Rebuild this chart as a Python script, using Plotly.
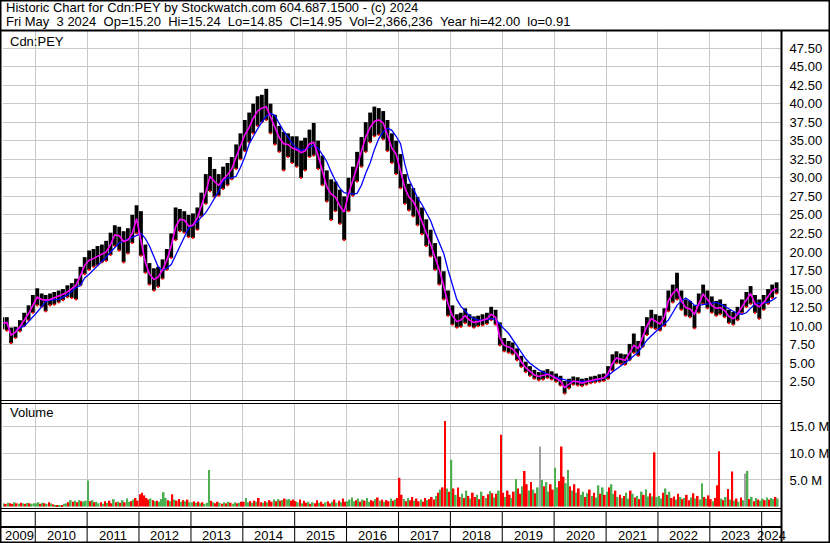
import pandas as pd
import plotly.graph_objects as go

W, H = 830, 543
FONT = "Liberation Sans, Arial, sans-serif"

# monthly bars, May 2009 .. Apr 2024 (May 2024 folded into April)
months = pd.date_range("2009-05-01", "2024-04-01", freq="MS")
bar_dates = months + pd.Timedelta(days=14)

price_hi = [
    11.2, 11.2, 9.8, 9.9, 10.8, 11.8, 12.8, 14.2,  # 2009
    15.1, 14.4, 14.2, 14.4, 14.6, 14.8, 15.0, 15.5, 15.8, 16.4, 18.0, 19.3,
    20.2, 20.4, 20.8, 21.0, 21.5, 22.6, 23.6, 23.4, 22.8, 23.2, 25.0, 26.3,
    25.5, 21.0, 18.5, 17.8, 18.0, 19.0, 20.4, 22.5, 26.0, 25.8, 25.5, 25.0,
    25.2, 26.0, 28.0, 30.5, 32.8, 31.2, 30.5, 31.5, 32.0, 32.8, 34.5, 36.0,
    37.8, 38.8, 40.0, 41.0, 41.2, 42.0, 40.0, 38.5, 37.0, 36.2, 36.0, 35.6,
    35.6, 35.0, 35.4, 36.5, 37.4, 35.0, 33.0, 31.0, 29.8, 29.5, 28.4, 27.5,
    30.0, 31.5, 33.5, 35.5, 37.5, 38.8, 39.6, 39.4, 39.0, 37.8, 36.0, 35.0,
    33.2, 30.5, 29.2, 28.6, 27.4, 26.0, 24.4, 23.0, 21.2, 19.4, 17.4, 14.8,
    12.8, 11.6, 11.8, 12.4, 11.6, 11.3, 11.4, 11.6, 11.8, 12.6, 12.2, 10.5,
    8.4, 8.0, 7.8, 7.0, 6.0, 5.2, 4.6, 4.1, 3.8, 4.0, 4.2, 3.9,
    3.6, 3.3, 2.6, 2.9, 3.2, 3.1, 2.9, 3.0, 3.2, 3.3, 3.5, 3.6,
    4.6, 6.2, 6.6, 6.3, 6.2, 7.6, 9.0, 8.0, 10.0, 11.2, 12.2, 11.6,
    11.4, 12.4, 14.8, 15.6, 17.2, 14.8, 13.6, 13.4, 12.8, 14.4, 15.6, 14.8,
    14.0, 13.4, 13.6, 13.0, 12.2, 11.9, 12.6, 13.6, 14.6, 15.4, 14.2, 13.6,
    14.2, 15.0, 15.6, 15.9,  # 2024
]
price_lo = [
    9.6, 9.4, 7.7, 8.4, 9.3, 10.0, 10.8, 11.8,
    12.8, 12.6, 12.0, 12.8, 12.9, 13.2, 13.5, 13.9, 13.8, 13.6, 15.5, 17.0,
    17.6, 18.0, 18.2, 18.6, 18.8, 19.6, 20.8, 20.2, 18.6, 19.8, 21.2, 22.5,
    19.5, 17.2, 15.6, 14.8, 15.3, 16.4, 17.6, 19.2, 21.6, 22.8, 22.6, 22.0,
    21.9, 23.0, 24.8, 26.5, 28.2, 27.4, 27.6, 28.5, 29.0, 29.8, 31.2, 32.5,
    33.6, 34.8, 36.0, 37.0, 37.5, 37.8, 36.0, 34.5, 33.5, 31.0, 32.8, 32.0,
    31.5, 30.0, 31.0, 32.8, 33.0, 31.2, 29.0, 26.8, 24.3, 25.5, 23.8, 21.6,
    25.5, 27.6, 29.5, 31.5, 33.5, 34.8, 35.6, 35.8, 35.2, 33.6, 32.0, 30.5,
    28.6, 26.5, 25.6, 24.8, 23.6, 22.4, 20.8, 19.4, 17.6, 15.6, 13.6, 11.4,
    10.2, 9.8, 9.9, 10.4, 10.0, 9.8, 10.0, 10.1, 10.3, 10.8, 10.2, 7.4,
    6.6, 6.4, 6.2, 5.4, 4.5, 3.8, 3.3, 2.9, 2.7, 2.8, 3.0, 2.8,
    2.5, 2.0, 0.91, 1.6, 2.1, 2.0, 1.9, 2.1, 2.3, 2.4, 2.5, 2.6,
    2.9, 4.0, 5.0, 4.9, 4.8, 5.4, 6.4, 6.0, 7.2, 8.8, 9.8, 9.6,
    9.4, 10.0, 12.0, 13.2, 13.6, 12.2, 11.4, 11.2, 9.7, 11.8, 13.0, 12.4,
    11.8, 11.4, 11.6, 11.2, 10.4, 10.2, 10.8, 11.8, 12.6, 13.0, 11.8, 11.0,
    12.2, 13.0, 13.8, 14.4,
]
# short moving average (magenta)
ma_fast = [
    10.4, 10.5, 8.8, 9.2, 9.9, 10.8, 11.7, 12.8,
    13.9, 13.6, 13.5, 13.6, 13.8, 14.0, 14.3, 14.6, 15.0, 15.5, 16.8, 18.2,
    18.9, 19.1, 19.4, 19.7, 20.0, 21.0, 22.3, 22.2, 21.4, 21.6, 22.5, 24.5,
    21.5, 18.6, 17.0, 16.3, 16.6, 17.6, 18.9, 20.8, 23.4, 24.4, 24.3, 23.5,
    23.6, 24.6, 26.2, 28.0, 30.2, 29.5, 29.0, 29.8, 30.4, 31.2, 32.8, 34.2,
    35.8, 36.8, 38.0, 39.0, 39.4, 39.6, 38.2, 36.6, 35.4, 34.6, 34.5, 34.0,
    33.8, 33.4, 33.6, 34.6, 34.8, 33.0, 31.0, 28.8, 27.8, 27.4, 26.2, 25.4,
    27.8, 29.6, 31.5, 33.6, 35.5, 36.8, 37.6, 37.8, 37.4, 35.8, 34.0, 33.2,
    31.0, 28.6, 27.4, 26.8, 25.6, 24.2, 22.6, 21.0, 19.4, 17.6, 15.4, 13.0,
    11.4, 10.6, 10.8, 11.4, 10.8, 10.5, 10.6, 10.8, 11.0, 11.6, 11.2, 8.4,
    7.4, 7.2, 6.9, 6.2, 5.2, 4.4, 3.9, 3.4, 3.2, 3.3, 3.5, 3.3,
    3.0, 2.6, 1.7, 2.2, 2.6, 2.5, 2.3, 2.5, 2.7, 2.8, 2.9, 3.0,
    3.6, 5.0, 5.7, 5.5, 5.4, 6.4, 7.4, 7.0, 8.6, 10.0, 11.0, 10.6,
    10.3, 11.2, 13.4, 14.4, 15.0, 13.4, 12.5, 12.3, 11.6, 13.0, 14.3, 13.6,
    12.8, 12.4, 12.5, 12.1, 11.3, 11.0, 11.6, 12.6, 13.6, 14.4, 13.0, 12.6,
    13.2, 14.0, 14.8, 15.1,
]
# long moving average (blue)
ma_slow = [
    None, None, None, 9.5, 9.7, 10.0, 10.6, 11.2,
    11.9, 12.6, 13.3, 13.5, 13.5, 13.6, 13.9, 14.2, 14.7, 15.2, 15.5, 16.5,
    17.0, 17.6, 18.1, 18.6, 19.3, 20.0, 20.6, 21.2, 21.5, 21.7, 21.9, 22.2,
    22.5, 21.8, 20.8, 19.5, 18.0, 17.5, 17.8, 18.3, 19.6, 20.8, 22.0, 23.2,
    23.6, 24.1, 24.7, 25.3, 26.2, 27.2, 28.2, 29.6, 30.0, 30.0, 30.2, 31.4,
    32.8, 34.6, 35.6, 36.6, 37.5, 38.3, 38.7, 38.4, 37.3, 36.3, 35.5, 34.6,
    34.0, 33.7, 33.8, 34.1, 34.4, 34.0, 33.2, 32.2, 30.8, 29.6, 28.6, 28.0,
    27.9, 27.8, 27.9, 29.0, 30.6, 32.0, 33.8, 35.3, 36.2, 36.7, 36.4, 35.6,
    34.6, 31.8, 29.8, 28.4, 27.3, 26.4, 25.4, 24.2, 22.6, 21.2, 19.8, 17.6,
    15.6, 13.6, 12.7, 12.1, 11.4, 11.0, 10.8, 10.8, 10.9, 11.0, 10.9, 10.2,
    9.6, 9.0, 8.2, 7.3, 6.4, 5.6, 5.0, 4.5, 4.1, 3.8, 3.5, 3.3,
    3.1, 2.9, 2.7, 2.6, 2.5, 2.5, 2.5, 2.5, 2.6, 2.7, 2.8, 3.0,
    3.3, 3.8, 4.2, 4.6, 5.0, 5.5, 6.0, 6.5, 7.3, 8.1, 8.7, 9.2,
    9.7, 10.2, 10.8, 11.8, 12.8, 13.4, 13.8, 13.4, 12.8, 12.8, 12.9, 13.0,
    13.1, 13.2, 13.0, 12.7, 12.4, 12.0, 11.7, 11.6, 11.8, 12.4, 13.0, 13.1,
    13.1, 13.2, 13.5, 13.9,
]

# volume in millions, two bars per month
vol_dates = [d for m in months for d in (m + pd.Timedelta(days=7), m + pd.Timedelta(days=22))]
volume = [
    1.5, 0.6, 0.5, 0.7, 0.6, 0.5, 0.8, 0.6, 0.5, 0.7, 0.6, 0.5, 0.7, 0.6, 0.5, 0.6,
    0.6, 0.8, 0.5, 0.7, 0.6, 0.5, 0.8, 0.6, 0.4, 0.3, 0.2, 0.2, 0.3, 0.5, 0.6, 0.8, 1.2, 0.9, 1.1, 0.8, 1.2, 1.0, 0.9, 1.1,
    4.9, 1.0, 1.2, 0.8, 0.9, 0.6, 0.8, 0.5, 1.0, 0.7, 1.1, 0.6, 1.4, 0.8, 0.9, 0.7, 1.2, 0.8, 1.5, 0.9, 1.0, 1.3, 1.6, 1.1,
    2.3, 2.6, 2.1, 1.6, 1.3, 1.5, 1.2, 1.0, 1.1, 0.9, 1.4, 2.7, 1.6, 1.2, 1.0, 2.3, 1.3, 1.1, 1.4, 0.9, 1.2, 1.0, 1.3, 0.8,
    0.8, 1.0, 0.7, 0.9, 0.6, 0.8, 0.5, 0.7, 6.9, 1.1, 0.8, 0.6, 0.9, 0.7, 0.5, 0.8, 0.6, 0.9, 0.7, 0.5, 0.8, 0.6, 0.7, 0.9,
    0.9, 1.6, 0.8, 1.0, 0.7, 1.1, 0.9, 1.6, 0.8, 0.7, 1.0, 0.8, 1.2, 0.9, 1.3, 1.0, 1.4, 1.1, 1.2, 1.5, 1.3, 1.4, 1.1, 1.3,
    1.0, 0.8, 1.3, 0.6, 1.1, 0.7, 0.9, 0.5, 0.8, 0.6, 1.2, 0.7, 0.9, 0.5, 0.8, 1.0, 0.6, 0.9, 1.3, 0.7, 1.1, 0.8, 1.5, 0.9,
    1.0, 1.3, 1.7, 1.0, 1.2, 1.5, 0.9, 1.3, 1.1, 1.6, 0.9, 1.2, 1.0, 1.4, 1.7, 1.1, 1.3, 0.9, 1.2, 1.0, 1.5, 1.1, 1.3, 1.6,
    5.4, 2.2, 1.4, 1.0, 1.6, 1.2, 1.8, 1.1, 1.5, 1.0, 1.3, 0.9, 1.6, 1.2, 1.4, 1.8, 1.3, 2.0, 2.6, 3.2, 3.6, 16.1, 3.4, 2.8,
    8.8, 3.4, 2.2, 3.6, 1.8, 2.4, 1.6, 3.0, 2.0, 1.5, 2.6, 1.8, 2.2, 1.4, 2.8, 2.0, 1.6, 2.3, 2.9, 2.5, 1.7, 2.4, 3.0, 13.5,
    2.6, 1.8, 3.0, 2.2, 1.6, 2.8, 5.2, 3.4, 2.4, 3.8, 6.7, 4.2, 3.0, 4.6, 3.2, 2.5, 3.6, 11.3, 5.0, 3.8, 4.6, 2.8, 4.2, 3.2,
    7.3, 3.6, 4.8, 11.3, 5.6, 4.4, 6.9, 3.8, 3.0, 4.2, 2.6, 3.4, 2.2, 2.8, 1.8, 2.5, 3.2, 2.0, 2.6, 1.7, 4.0, 2.4, 3.6, 2.2,
    2.8, 3.6, 4.2, 2.4, 3.0, 1.8, 2.2, 1.6, 2.0, 2.6, 1.5, 3.0, 2.4, 1.7, 2.0, 1.4, 2.8, 2.2, 3.2, 1.9, 2.5, 1.9, 10.2, 1.8,
    2.0, 1.5, 2.6, 3.4, 2.2, 2.8, 1.6, 1.9, 1.3, 2.4, 1.8, 1.4, 1.6, 2.2, 1.2, 1.7, 2.5, 1.5, 2.0, 1.3, 4.4, 1.8, 1.5, 2.1,
    1.4, 1.0, 1.6, 4.0, 10.4, 1.5, 1.2, 1.8, 3.3, 1.3, 6.6, 1.1, 1.5, 0.9, 1.7, 1.2, 6.2, 6.7, 1.4, 1.8, 1.0, 1.6, 1.3, 1.1,
    1.5, 1.2, 1.7, 1.3, 1.6, 1.4, 1.8, 1.5,
]
# r = down, g = up, n = unchanged
vol_dir = (
    "rgrgrrgrgrgrgrgg"
    "ggrgrgrgrgrgrggrgrgrgrgg"
    "grgrggrgrgrrgrgrgrggrgrr"
    "rrrrrgrgrggggrgrgrrgrgrg"
    "grgrgrgggrgrrgrgrgrggrgr"
    "rggrgrgrrgrgrrgrgrgrggrr"
    "rgrgrrgrgrrgrrgrrgrgrgrr"
    "ggggrgrgrggrrgrgrgrrgrgr"
    "rrgrgrrgrrgrrgrrrgrgrrgr"
    "grgrrgrgrgrrgrgrgrgrgrgr"
    "rgrrgrgrrgrrgrgrgngrggrr"
    "ggrrrggrgrgrggrgrgrggrgr"
    "grggrgrgrggrgrgrgrggrgrg"
    "ggrgrgrrgrgrgrrgrgrggrgr"
    "rgrrrgrgrgrgrgrgngrgrgrg"
    "grgrggrg"
)
assert len(price_hi) == len(price_lo) == len(ma_fast) == len(ma_slow) == len(months)
assert len(volume) == len(vol_dir) == len(vol_dates)

years = list(range(2009, 2025))
price_ticks = [2.5 * i for i in range(1, 20)]
vol_ticks = [5, 10, 15]

x_range = [pd.Timestamp("2009-05-19"), pd.Timestamp("2024-05-16")]
year_starts = [pd.Timestamp(f"{y}-01-01") for y in years[1:]]


def px(x):
    return x / W


def py(y):
    return 1 - y / H


dir_colors = {"r": "#ff0000", "g": "#4caf50", "n": "#a0a0a0"}
day_ms = 86400000

fig = go.Figure()

# price bars
fig.add_trace(go.Bar(
    x=bar_dates, y=[h - l for h, l in zip(price_hi, price_lo)], base=price_lo,
    width=27 * day_ms, marker=dict(color="#000000", line=dict(width=0)),
    xaxis="x", yaxis="y", hoverinfo="skip"))
fig.add_trace(go.Scatter(
    x=bar_dates, y=price_lo, mode="markers",
    marker=dict(symbol="square", size=2, color="#ff0000"),
    xaxis="x", yaxis="y", hoverinfo="skip"))
fig.add_trace(go.Scatter(
    x=bar_dates, y=ma_slow, mode="lines", line=dict(color="#0000ff", width=1.3),
    xaxis="x", yaxis="y", hoverinfo="skip"))
fig.add_trace(go.Scatter(
    x=bar_dates, y=ma_fast, mode="lines", line=dict(color="#ff00ff", width=1.6),
    xaxis="x", yaxis="y", hoverinfo="skip"))

# volume bars
fig.add_trace(go.Bar(
    x=vol_dates, y=volume, width=12 * day_ms,
    marker=dict(color=[dir_colors[c] for c in vol_dir], line=dict(width=0)),
    xaxis="x2", yaxis="y2", hoverinfo="skip"))

grid = "#c8c8c8"
tick_font = dict(family=FONT, size=13, color="#000000")
common_x = dict(type="date", range=x_range, domain=[px(3), px(781)],
                tickvals=year_starts, showticklabels=False, showgrid=True,
                gridcolor=grid, gridwidth=1, zeroline=False, showline=False, ticks="")

# structural lines
shapes = [
    dict(type="rect", xref="paper", yref="paper", x0=0, y0=0, x1=1, y1=1,
         line=dict(color="#000000", width=3)),
    dict(type="line", xref="paper", yref="paper", x0=0, x1=1, y0=py(30.5), y1=py(30.5),
         line=dict(color="#000000", width=2)),
    dict(type="line", xref="paper", yref="paper", x0=0, x1=px(781), y0=py(400.5), y1=py(400.5),
         line=dict(color="#000000", width=1)),
    dict(type="line", xref="paper", yref="paper", x0=0, x1=px(781), y0=py(403.5), y1=py(403.5),
         line=dict(color="#000000", width=1)),
    dict(type="line", xref="paper", yref="paper", x0=0, x1=px(781), y0=py(508.5), y1=py(508.5),
         line=dict(color="#000000", width=1)),
    dict(type="line", xref="paper", yref="paper", x0=0, x1=px(781), y0=py(511.5), y1=py(511.5),
         line=dict(color="#000000", width=1)),
    dict(type="line", xref="paper", yref="paper", x0=0, x1=px(781), y0=py(527), y1=py(527),
         line=dict(color="#000000", width=2)),
    dict(type="line", xref="paper", yref="paper", x0=px(781.5), x1=px(781.5), y0=py(31), y1=0,
         line=dict(color="#000000", width=2)),
]
for d in year_starts:
    shapes.append(dict(type="line", xref="x2", yref="paper", x0=d, x1=d, y0=0, y1=py(511),
                       line=dict(color="#000000", width=1)))

annotations = [
    dict(text="Historic Chart for Cdn:PEY by Stockwatch.com 604.687.1500 - (c) 2024",
         x=px(4), y=py(8), xref="paper", yref="paper", xanchor="left", yanchor="middle",
         showarrow=False, font=tick_font),
    dict(text="Fri May\u00a0\u00a03 2024\u00a0\u00a0Op=15.20\u00a0\u00a0Hi=15.24\u00a0\u00a0Lo=14.85"
              "\u00a0\u00a0Cl=14.95\u00a0\u00a0Vol=2,366,236\u00a0\u00a0Year hi=42.00\u00a0\u00a0lo=0.91",
         x=px(4), y=py(21.5), xref="paper", yref="paper", xanchor="left", yanchor="middle",
         showarrow=False, font=tick_font),
    dict(text="Cdn:PEY", x=px(8), y=py(41.5), xref="paper", yref="paper",
         xanchor="left", yanchor="middle", showarrow=False, font=tick_font),
    dict(text="Volume", x=px(8), y=py(413), xref="paper", yref="paper",
         xanchor="left", yanchor="middle", showarrow=False, font=tick_font),
]
# year labels centred in the visible part of each year
for y in years:
    a = max(pd.Timestamp(f"{y}-01-01"), x_range[0])
    b = min(pd.Timestamp(f"{y + 1}-01-01"), x_range[1])
    annotations.append(dict(text=str(y), x=a + (b - a) / 2, y=py(535), xref="x2", yref="paper",
                            xanchor="center", yanchor="middle", showarrow=False, font=tick_font))

fig.update_layout(
    width=W, height=H,
    margin=dict(l=0, r=0, t=0, b=0),
    paper_bgcolor="#ffffff", plot_bgcolor="#ffffff",
    showlegend=False, barmode="overlay",
    font=dict(family=FONT, color="#000000"),
    xaxis=dict(anchor="y", **common_x),
    xaxis2=dict(anchor="y2", **common_x),
    yaxis=dict(domain=[py(401), py(31)], range=[-0.1, 49.8], side="right", anchor="x",
               tickvals=price_ticks, tickformat=".2f", showgrid=True, gridcolor=grid,
               zeroline=False, showline=False, ticks="outside", ticklen=5,
               tickcolor="rgba(0,0,0,0)", tickfont=tick_font),
    yaxis2=dict(domain=[py(508), py(403)], range=[-0.28, 19.5], side="right", anchor="x2",
                tickvals=vol_ticks, ticktext=[f"{v:.1f} M" for v in vol_ticks], showgrid=True,
                gridcolor=grid, zeroline=False, showline=False, ticks="outside", ticklen=5,
                tickcolor="rgba(0,0,0,0)", tickfont=tick_font),
    shapes=shapes,
    annotations=annotations,
)

# the page body's default margin would push the 830x543 figure out of the window
fig.write_html("out.html", config={"displayModeBar": False},
               post_script="document.body.style.margin='0';")
